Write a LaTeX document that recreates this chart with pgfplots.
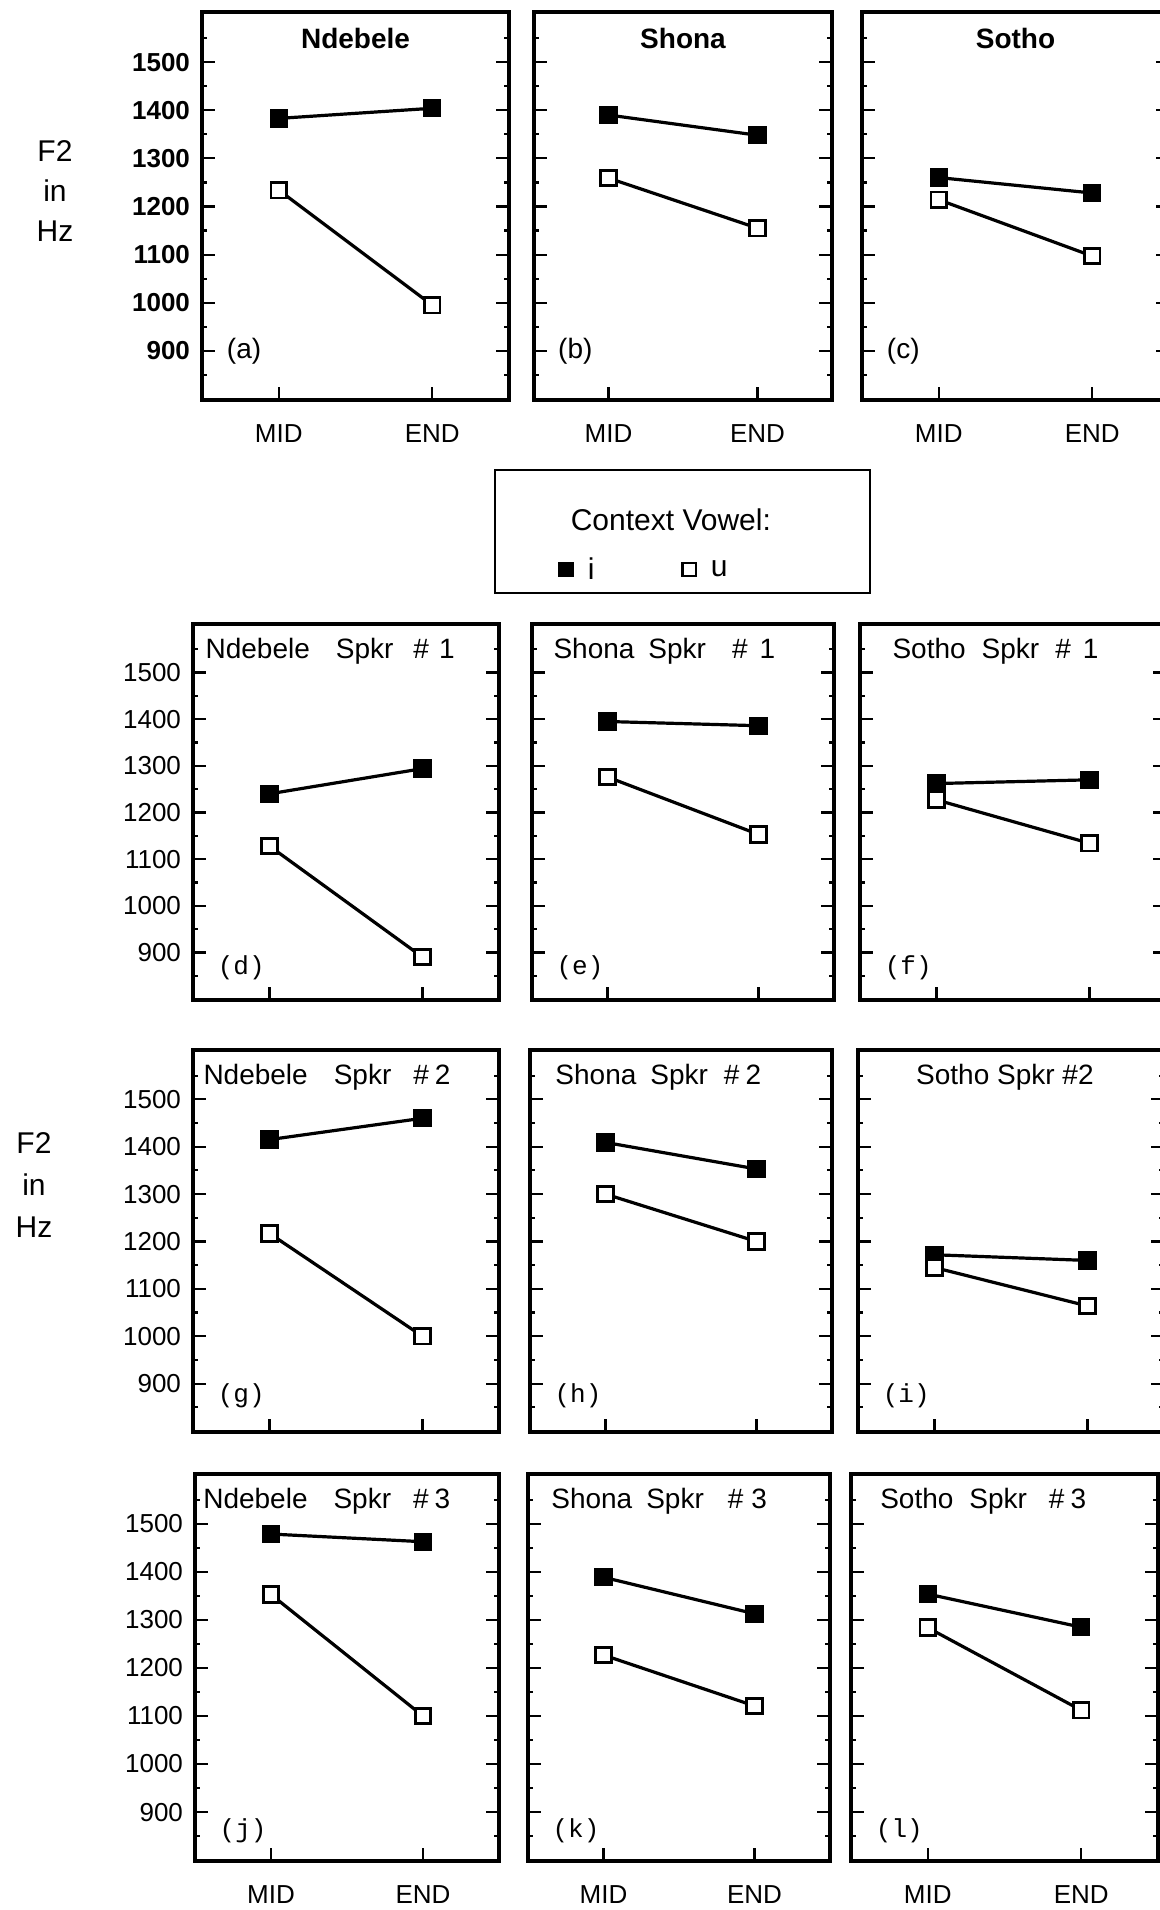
\documentclass[border=0pt]{standalone}
\usepackage{fontspec}
\setmainfont{Liberation Sans}
\newfontfamily\monofont{Liberation Mono}
\usepackage{pgfplots}
\pgfplotsset{compat=1.18}

% 1 px of the reference = 0.5pt
\pgfplotsset{
  panel/.style={
    scale only axis, anchor=south west,
    xmin=0.5, xmax=2.5, ymin=798, ymax=1604,
    xtick={1,2}, xticklabels={},
    ytick={900,1000,1100,1200,1300,1400,1500}, yticklabels={},
    minor ytick={850,950,1050,1150,1250,1350,1450,1550},
    tick align=inside, xtick pos=left, ytick pos=both,
    major tick length=6.5pt, minor tick length=2.5pt,
    every tick/.style={black, line width=1.1pt},
    axis line style={line width=1.6pt},
    yticklabel style={font=\fontsize{13}{13}\selectfont, xshift=-2.5pt},
    xticklabel style={font=\fontsize{13}{13}\selectfont, yshift=-9pt},
    clip=false,
  },
  ylab/.style={yticklabels={900,1000,1100,1200,1300,1400,1500}},
  xlab/.style={xticklabels={MID,END}},
  iline/.style={black, line width=1.6pt, mark=square*, mark size=4.1pt,
    mark options={solid, line width=1pt}},
  uline/.style={black, line width=1.6pt, mark=square*, mark size=3.9pt,
    mark options={solid, fill=white, line width=1.4pt}},
}
\tikzset{
  tit1/.style={anchor=base, yshift=-18pt, inner sep=0pt, font=\bfseries\fontsize{14}{14}\selectfont},
  tit/.style={anchor=base west, yshift=-17pt, inner sep=0pt, font=\fontsize{14}{14}\selectfont},
  sub1/.style={anchor=west, inner sep=0pt, font=\fontsize{14}{14}\selectfont},
  sub/.style={anchor=west, inner sep=0pt, font=\monofont\fontsize{13}{13}\selectfont},
}

\begin{document}
\begin{tikzpicture}
\useasboundingbox (0pt,0pt) rectangle (580pt,-955pt);

% side labels
\node[align=center, font=\fontsize{15}{20}\selectfont] at (27.5pt,-95.5pt) {F2\\in\\Hz};
\node[align=center, font=\fontsize{15}{21}\selectfont] at (17pt,-592.5pt) {F2\\in\\Hz};

% ---------- row 1 ----------
\begin{axis}[panel, ylab, xlab, at={(101pt,-200pt)}, width=153.5pt, height=194pt,
  yticklabel style={font=\bfseries\fontsize{13}{13}\selectfont}]
\addplot[iline] coordinates {(1,1383) (2,1404)};
\addplot[uline] coordinates {(1,1234) (2,995)};
\node[tit1] at (rel axis cs:0.5,1) {Ndebele};
\node[sub1] at (axis cs:0.66,900) {(a)};
\end{axis}

\begin{axis}[panel, xlab, at={(267pt,-200pt)}, width=149pt, height=194pt]
\addplot[iline] coordinates {(1,1390) (2,1348)};
\addplot[uline] coordinates {(1,1259) (2,1155)};
\node[tit1] at (rel axis cs:0.5,1) {Shona};
\node[sub1] at (axis cs:0.66,900) {(b)};
\end{axis}

\begin{axis}[panel, xlab, at={(431pt,-200pt)}, width=153.5pt, height=194pt]
\addplot[iline] coordinates {(1,1260) (2,1228)};
\addplot[uline] coordinates {(1,1214) (2,1097)};
\node[tit1] at (rel axis cs:0.5,1) {Sotho};
\node[sub1] at (axis cs:0.66,900) {(c)};
\end{axis}

% legend
\begin{axis}[hide axis, scale only axis, anchor=south west, at={(247.5pt,-296.5pt)},
  width=187.5pt, height=61.5pt, xmin=0, xmax=1, ymin=0, ymax=1, clip=false,
  legend columns=2,
  legend style={at={(axis description cs:0.40,0.19)}, anchor=center, draw=none, fill=none,
    font=\fontsize{15}{15}\selectfont,
    /tikz/every odd column/.append style={column sep=5.5pt},
    /tikz/every even column/.append style={column sep=42pt}}]
\addlegendimage{only marks, mark=square*, mark size=3.6pt}
\addlegendentry{i}
\addlegendimage{only marks, mark=square*, mark size=3.3pt, mark options={fill=white, line width=1.2pt}}
\addlegendentry{u}
\draw[line width=1.3pt] (rel axis cs:0,0) rectangle (rel axis cs:1,1);
\node[font=\fontsize{15}{15}\selectfont] at (axis description cs:0.469,0.593) {Context Vowel:};
\end{axis}

% ---------- row 2 ----------
\begin{axis}[panel, ylab, at={(96.5pt,-500pt)}, width=153pt, height=188pt]
\addplot[iline] coordinates {(1,1240) (2,1294)};
\addplot[uline] coordinates {(1,1128) (2,890)};
\node[tit] at (rel axis cs:0.04,1) {Ndebele\hspace{13pt}Spkr\hspace{10pt}\#\hspace{5pt}1};
\node[sub] at (axis cs:0.66,868) {(d)};
\end{axis}

\begin{axis}[panel, at={(266pt,-500pt)}, width=151pt, height=188pt]
\addplot[iline] coordinates {(1,1395) (2,1386)};
\addplot[uline] coordinates {(1,1276) (2,1153)};
\node[tit] at (rel axis cs:0.07,1) {Shona\hspace{7pt}Spkr\hspace{13pt}\#\hspace{6pt}1};
\node[sub] at (axis cs:0.66,868) {(e)};
\end{axis}

\begin{axis}[panel, at={(430pt,-500pt)}, width=153pt, height=188pt]
\addplot[iline] coordinates {(1,1262) (2,1270)};
\addplot[uline] coordinates {(1,1227) (2,1134)};
\node[tit] at (rel axis cs:0.105,1) {Sotho\hspace{8pt}Spkr\hspace{8pt}\#\hspace{6pt}1};
\node[sub] at (axis cs:0.66,868) {(f)};
\end{axis}

% ---------- row 3 ----------
\begin{axis}[panel, ylab, at={(96.5pt,-716pt)}, width=153pt, height=191pt]
\addplot[iline] coordinates {(1,1415) (2,1460)};
\addplot[uline] coordinates {(1,1217) (2,1000)};
\node[tit] at (rel axis cs:0.033,1) {Ndebele\hspace{13pt}Spkr\hspace{11pt}\#\hspace{3pt}2};
\node[sub] at (axis cs:0.66,874) {(g)};
\end{axis}

\begin{axis}[panel, at={(265pt,-716pt)}, width=151pt, height=191pt]
\addplot[iline] coordinates {(1,1409) (2,1353)};
\addplot[uline] coordinates {(1,1300) (2,1200)};
\node[tit] at (rel axis cs:0.083,1) {Shona\hspace{7pt}Spkr\hspace{8pt}\#\hspace{3pt}2};
\node[sub] at (axis cs:0.66,874) {(h)};
\end{axis}

\begin{axis}[panel, at={(429pt,-716pt)}, width=153pt, height=191pt]
\addplot[iline] coordinates {(1,1172) (2,1160)};
\addplot[uline] coordinates {(1,1145) (2,1064)};
\node[tit, anchor=base] at (rel axis cs:0.48,1) {Sotho Spkr \#2};
\node[sub] at (axis cs:0.66,874) {(i)};
\end{axis}

% ---------- row 4 ----------
\begin{axis}[panel, ylab, xlab, at={(97.5pt,-930.5pt)}, width=152pt, height=193.5pt]
\addplot[iline] coordinates {(1,1479) (2,1463)};
\addplot[uline] coordinates {(1,1353) (2,1100)};
\node[tit] at (rel axis cs:0.026,1) {Ndebele\hspace{13pt}Spkr\hspace{11pt}\#\hspace{3pt}3};
\node[sub] at (axis cs:0.66,862) {(j)};
\end{axis}

\begin{axis}[panel, xlab, at={(264pt,-930.5pt)}, width=151pt, height=193.5pt]
\addplot[iline] coordinates {(1,1389) (2,1313)};
\addplot[uline] coordinates {(1,1227) (2,1121)};
\node[tit] at (rel axis cs:0.076,1) {Shona\hspace{7pt}Spkr\hspace{12pt}\#\hspace{4pt}3};
\node[sub] at (axis cs:0.66,862) {(k)};
\end{axis}

\begin{axis}[panel, xlab, at={(425.5pt,-930.5pt)}, width=153.5pt, height=193.5pt]
\addplot[iline] coordinates {(1,1354) (2,1285)};
\addplot[uline] coordinates {(1,1284) (2,1112)};
\node[tit] at (rel axis cs:0.094,1) {Sotho\hspace{8pt}Spkr\hspace{11pt}\#\hspace{3pt}3};
\node[sub] at (axis cs:0.66,862) {(l)};
\end{axis}
\end{tikzpicture}
\end{document}
